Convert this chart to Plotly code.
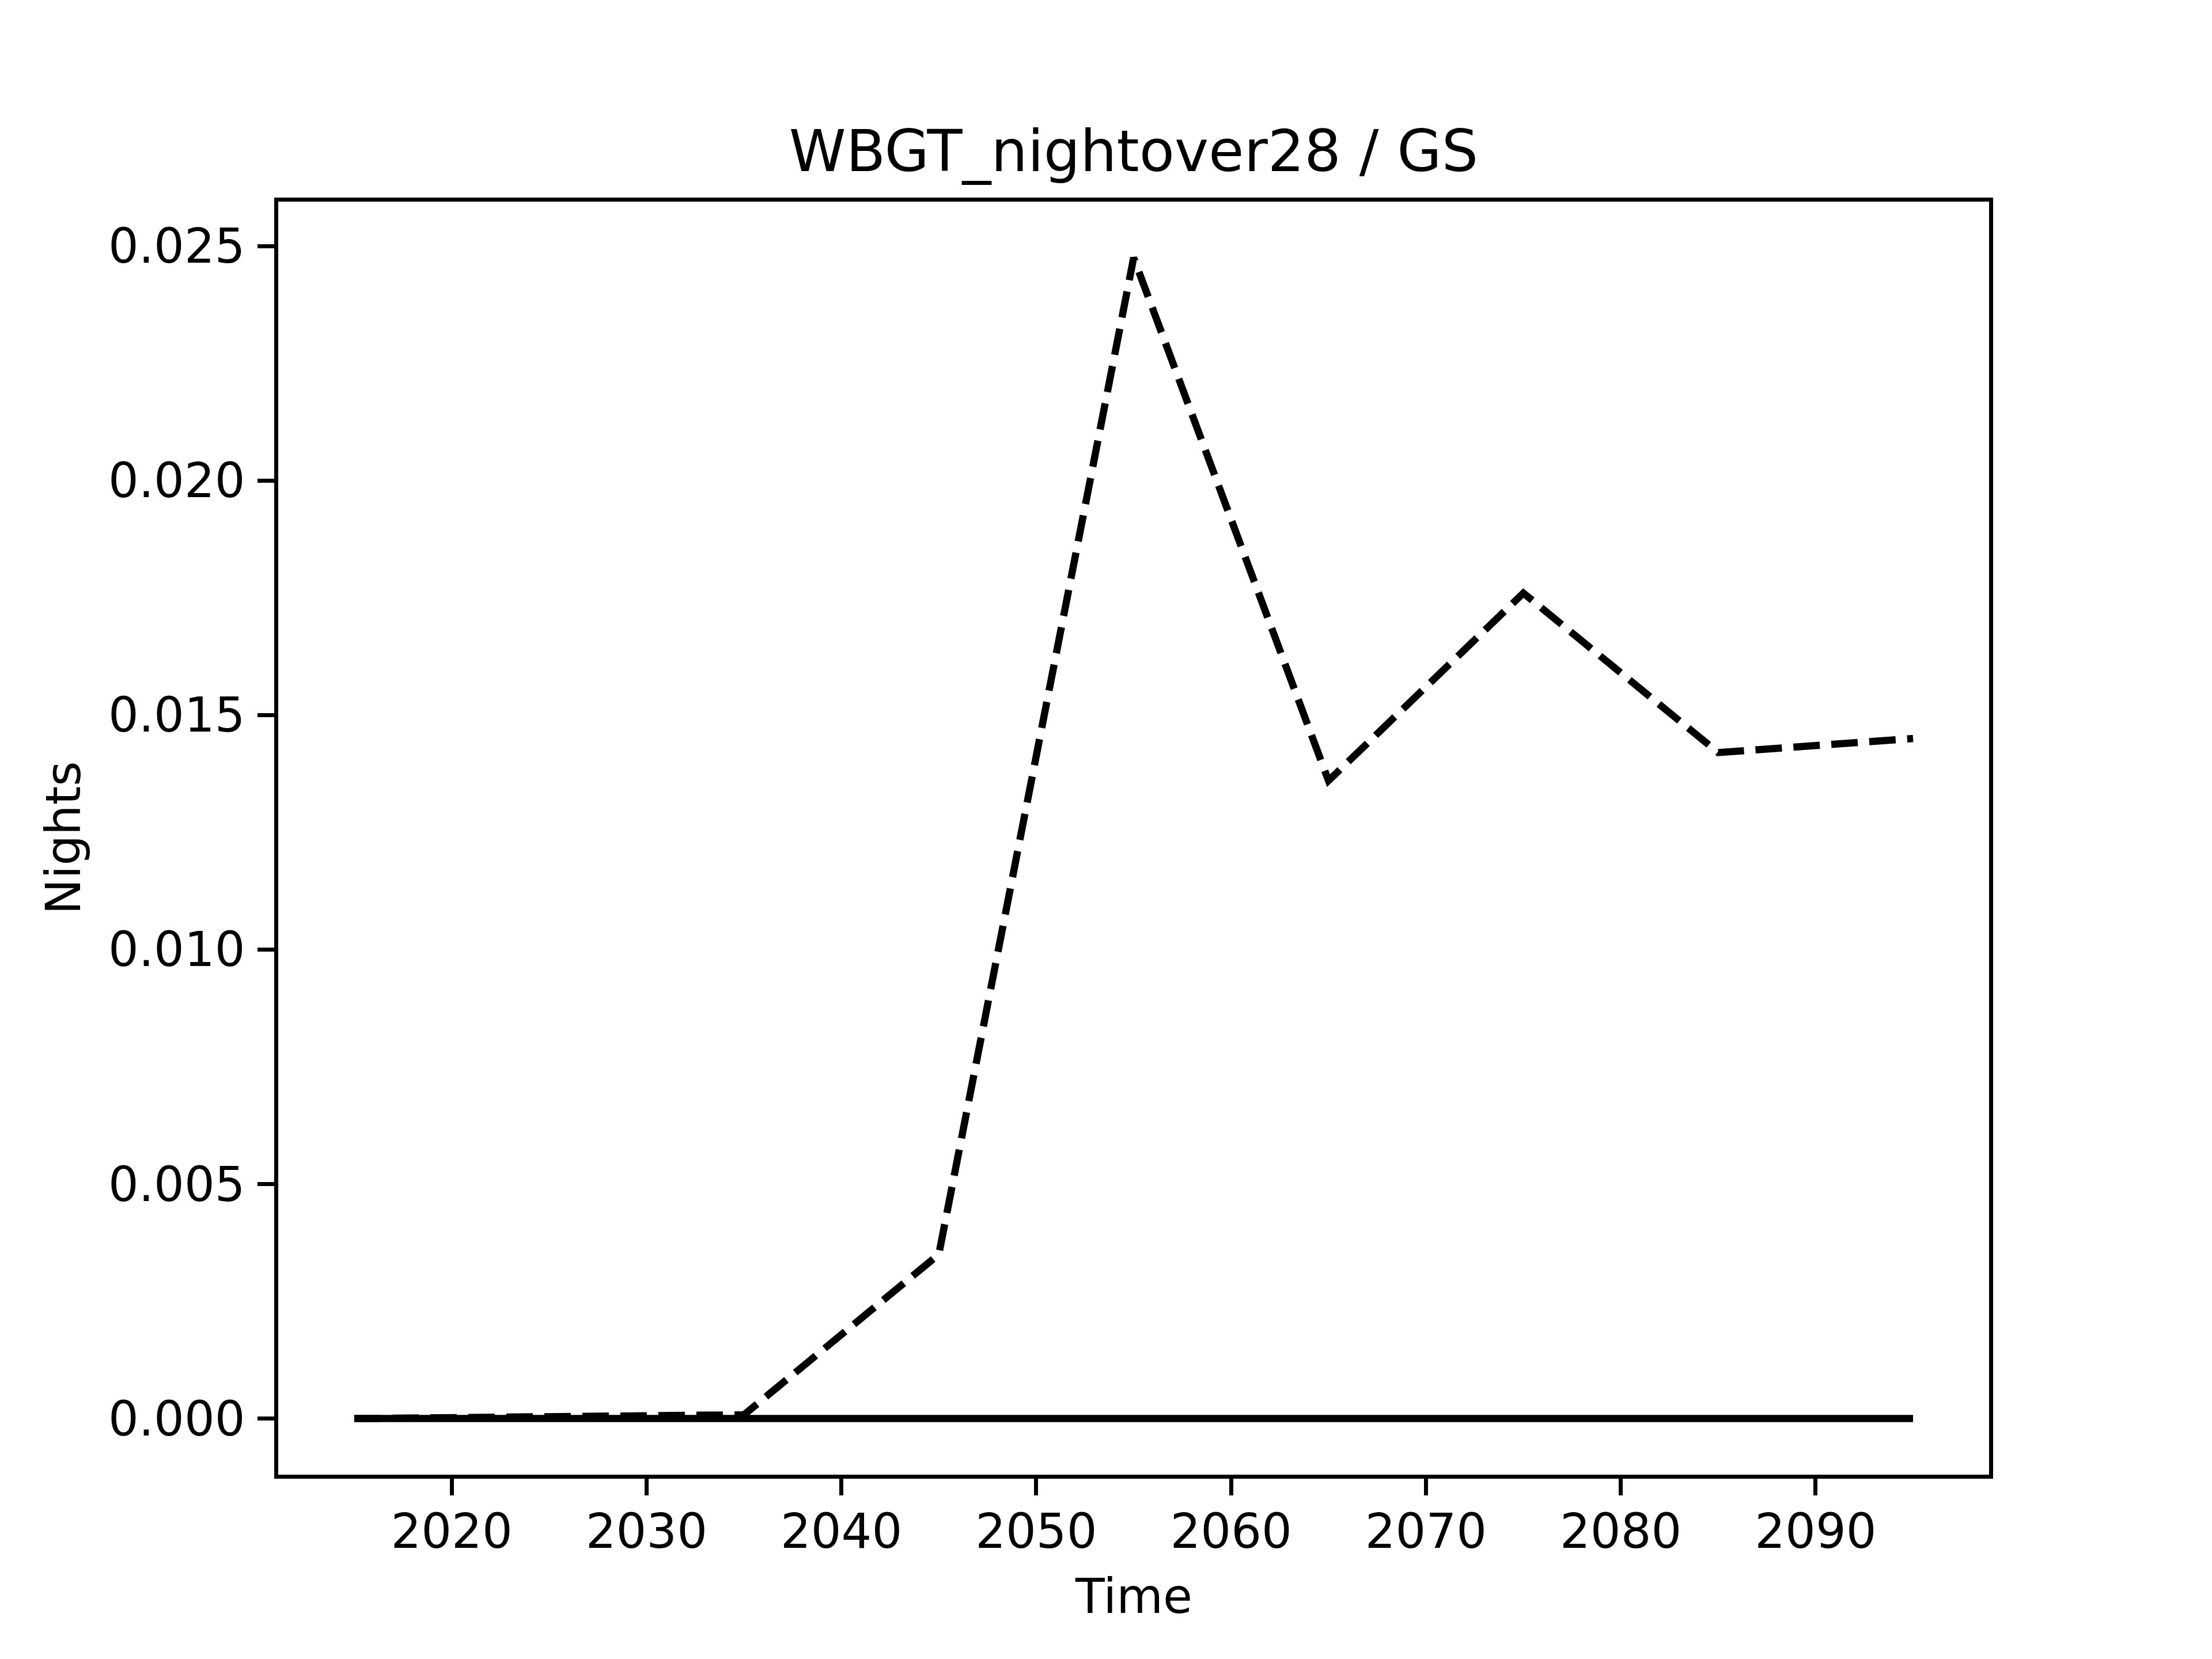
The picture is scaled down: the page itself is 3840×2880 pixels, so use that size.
import plotly.graph_objects as go

years = [2015, 2025, 2035, 2045, 2055, 2065, 2075, 2085, 2095]
dashed_vals = [0.0, 0.00004, 0.00008, 0.0035, 0.02475, 0.0136, 0.0176, 0.0142, 0.0145]
solid_vals = [0.0, 0.0, 0.0, 0.0, 0.0, 0.0, 0.0, 0.0, 0.0]
x_ticks = [2020, 2030, 2040, 2050, 2060, 2070, 2080, 2090]
y_ticks = [0.0, 0.005, 0.010, 0.015, 0.020, 0.025]

OFF = 8                      # default <body> margin of the html page
W, H = 3840 - OFF, 2880 - OFF
AXW = 6.7
HALF = AXW / 2
# target axes box in page pixels (matplotlib-like)
AX_L, AX_R, AX_T, AX_B = 480.0, 3456.0, 346.7, 2563.0
L = AX_L - OFF + HALF
R = W - (AX_R - OFF - HALF)
T = AX_T - OFF + HALF
B = H - (AX_B - OFF - HALF)
LW = 12.5
FONT = "DejaVu Sans"

fig = go.Figure()
fig.add_trace(go.Scatter(x=years, y=dashed_vals, mode="lines",
                         line=dict(color="black", width=LW, dash="46px,20px"),
                         showlegend=False))
fig.add_trace(go.Scatter(x=years, y=solid_vals, mode="lines",
                         line=dict(color="black", width=LW),
                         showlegend=False))

ymin, ymax = min(dashed_vals + solid_vals), max(dashed_vals + solid_vals)
yr = ymax - ymin
xr = years[-1] - years[0]
x0, x1 = years[0] - 0.05 * xr, years[-1] + 0.05 * xr
y0, y1 = ymin - 0.05 * yr, ymax + 0.05 * yr
axw = AX_R - AX_L
axh = AX_B - AX_T
dx = (x1 - x0) * HALF / axw
dy = (y1 - y0) * HALF / axh

axis_common = dict(showgrid=False, zeroline=False, showline=True, linecolor="black",
                   linewidth=AXW, mirror=True, ticks="outside", ticklen=29,
                   tickwidth=AXW, tickcolor="black",
                   tickfont=dict(family=FONT, size=83, color="black"))

fig.update_xaxes(range=[x0 + dx, x1 - dx],
                 tickvals=x_ticks, ticktext=[str(v) for v in x_ticks],
                 ticklabelstandoff=-8, **axis_common)
fig.update_yaxes(range=[y0 + dy, y1 - dy],
                 tickvals=y_ticks, ticktext=[f"{v:.3f}" for v in y_ticks],
                 ticklabelstandoff=5, **axis_common)

plot_h = H - T - B
plot_w = W - L - R
fig.update_layout(
    width=W, height=H,
    margin=dict(l=L, r=R, t=T, b=B, autoexpand=False),
    plot_bgcolor="white", paper_bgcolor="white",
    title=dict(text="WBGT_nightover28 / GS", x=(L + plot_w / 2) / W, xanchor="center",
               y=(H - (262 - OFF)) / H, yanchor="middle", yref="container",
               font=dict(family=FONT, size=100, color="black")),
    annotations=[
        dict(text="Time", xref="paper", yref="paper", x=0.5,
             y=(H - (2771 - OFF) - B) / plot_h,
             xanchor="center", yanchor="middle", showarrow=False,
             font=dict(family=FONT, size=83, color="black")),
        dict(text="Nights", xref="paper", yref="paper", x=(111 - OFF - L) / plot_w,
             y=(H - (1455 - OFF) - B) / plot_h,
             xanchor="center", yanchor="middle", showarrow=False, textangle=-90,
             font=dict(family=FONT, size=83, color="black")),
    ],
)

fig.write_html("out.html")
